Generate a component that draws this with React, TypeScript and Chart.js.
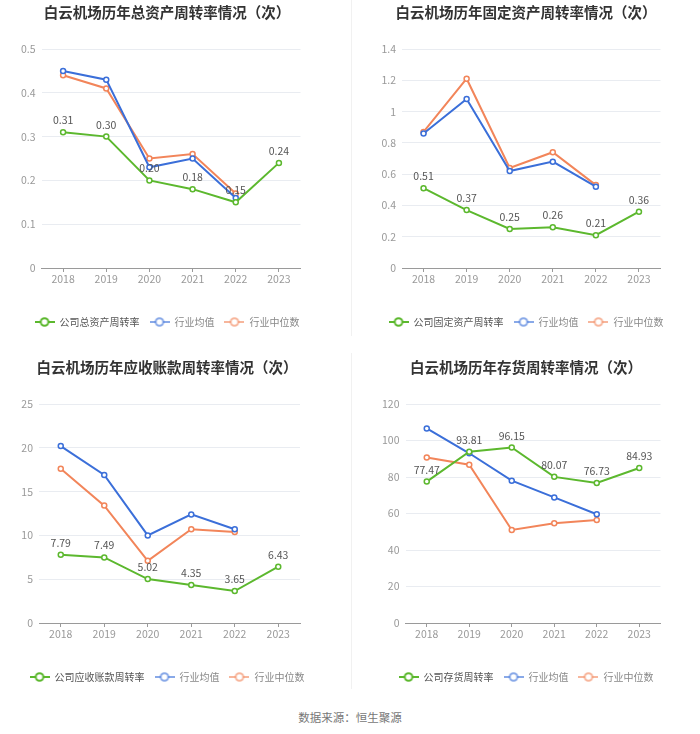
import React, { useEffect, useRef } from "react";
import { Chart, registerables } from "chart.js";

Chart.register(...registerables);

const FONT = "'Noto Sans CJK SC', 'Noto Sans', sans-serif";
Chart.defaults.font.family = FONT;

const years = ["2018", "2019", "2020", "2021", "2022", "2023"];
const seriesNames = ["行业均值", "行业中位数"];

const totalAssetCompany = [0.31, 0.3, 0.2, 0.18, 0.15, 0.24];
const totalAssetAvg = [0.45, 0.43, 0.23, 0.25, 0.16, null];
const totalAssetMedian = [0.44, 0.41, 0.25, 0.26, 0.17, null];

const fixedAssetCompany = [0.51, 0.37, 0.25, 0.26, 0.21, 0.36];
const fixedAssetAvg = [0.86, 1.08, 0.62, 0.68, 0.52, null];
const fixedAssetMedian = [0.87, 1.21, 0.64, 0.74, 0.53, null];

const receivableCompany = [7.79, 7.49, 5.02, 4.35, 3.65, 6.43];
const receivableAvg = [20.2, 16.9, 10.0, 12.4, 10.7, null];
const receivableMedian = [17.6, 13.4, 7.1, 10.7, 10.4, null];

const inventoryCompany = [77.47, 93.81, 96.15, 80.07, 76.73, 84.93];
const inventoryAvg = [106.6, 93.0, 78.0, 68.8, 59.6, null];
const inventoryMedian = [90.7, 86.7, 51.0, 54.6, 56.5, null];

const GREEN = "#5cb82e";
const BLUE = "#3b6fd9";
const ORANGE = "#f2855a";

function makeIcon(color: string, alpha: number) {
  const c = document.createElement("canvas");
  c.width = 20;
  c.height = 12;
  const g = c.getContext("2d")!;
  g.lineWidth = 2;
  g.globalAlpha = alpha;
  g.strokeStyle = color;
  g.beginPath();
  g.moveTo(0, 6);
  g.lineTo(20, 6);
  g.stroke();
  g.globalAlpha = 1;
  g.fillStyle = "#fff";
  g.beginPath();
  g.arc(10, 6, 3.8, 0, Math.PI * 2);
  g.fill();
  g.globalAlpha = alpha;
  g.stroke();
  return c;
}

const valueLabelPlugin = {
  id: "valueLabels",
  afterDatasetsDraw(chart: any) {
    const ctx = chart.ctx;
    const meta = chart.getDatasetMeta(0);
    const data = chart.data.datasets[0].data;
    ctx.save();
    ctx.font = `10.5px ${FONT}`;
    ctx.fillStyle = "#555";
    ctx.textAlign = "center";
    ctx.textBaseline = "middle";
    meta.data.forEach((pt: any, i: number) => {
      const v = data[i];
      if (v == null) return;
      ctx.fillText(Number(v).toFixed(2), pt.x, pt.y - 12);
    });
    ctx.restore();
  },
};

type Spec = {
  title: string;
  companyName: string;
  company: (number | null)[];
  avg: (number | null)[];
  median: (number | null)[];
  max: number;
  step: number;
  left: number;
  top: number;
  width: number;
  height: number;
  yW: number;
  rW: number;
};

function LineChart({ spec }: { spec: Spec }) {
  const ref = useRef<HTMLCanvasElement>(null);
  useEffect(() => {
    const icons = [makeIcon(GREEN, 1), makeIcon(BLUE, 0.6), makeIcon(ORANGE, 0.6)];
    const mk = (label: string, data: any[], color: string) => ({
      label,
      data,
      borderColor: color,
      backgroundColor: color,
      borderWidth: 2,
      pointRadius: 2.5,
      pointHoverRadius: 2.5,
      pointBorderWidth: 1.5,
      pointBackgroundColor: "#fff",
      pointBorderColor: color,
      tension: 0,
      spanGaps: false,
    });
    const chart = new Chart(ref.current!, {
      type: "line",
      data: {
        labels: years,
        datasets: [
          mk(spec.companyName, spec.company, GREEN),
          mk(seriesNames[0], spec.avg, BLUE),
          mk(seriesNames[1], spec.median, ORANGE),
        ],
      },
      options: {
        responsive: false,
        animation: false,
        layout: { padding: { left: 0, right: 0, top: 0, bottom: 8 } },
        plugins: {
          tooltip: { enabled: false },
          title: {
            display: true,
            text: spec.title,
            color: "#333",
            font: { size: 14.5, weight: "bold", family: FONT },
            padding: { top: 4, bottom: 27.6 },
          },
          legend: {
            position: "bottom",
            labels: {
              usePointStyle: true,
              pointStyleWidth: 20,
              padding: 10,
              font: { size: 10, family: FONT },
              generateLabels: (c: any) =>
                c.data.datasets.map((ds: any, i: number) => ({
                  text: ds.label,
                  pointStyle: icons[i],
                  fontColor: i === 0 ? "#555" : "#888",
                  datasetIndex: i,
                  hidden: false,
                  lineWidth: 0,
                  strokeStyle: "transparent",
                  fillStyle: "transparent",
                })),
            },
          },
        },
        scales: {
          x: {
            offset: true,
            grid: {
              display: true,
              drawOnChartArea: false,
              drawTicks: true,
              tickLength: 4,
              color: "#9a9a9a",
            },
            border: { display: true, color: "#9a9a9a", width: 1 },
            ticks: {
              color: "#999",
              font: { size: 10.5, family: FONT },
              padding: 1,
              maxRotation: 0,
              autoSkip: false,
            },
            afterFit: (s: any) => {
              s.height = 39;
            },
          },
          y: {
            min: 0,
            max: spec.max,
            ticks: {
              stepSize: spec.step,
              color: "#999",
              font: { size: 10.5, family: FONT },
              padding: 6,
              callback: (v: any) => String(Number(Number(v).toFixed(2))),
            },
            grid: { color: "#e9ecf1", drawTicks: false },
            border: { display: false },
            afterFit: (s: any) => {
              s.width = spec.yW;
            },
          },
          y2: {
            type: "linear",
            position: "right",
            display: true,
            grid: { display: false, drawTicks: false },
            border: { display: false },
            ticks: { display: false },
            afterFit: (s: any) => {
              s.width = spec.rW;
            },
          },
        },
      } as any,
      plugins: [valueLabelPlugin],
    });
    return () => chart.destroy();
  }, [spec]);
  return (
    <div
      style={{
        position: "absolute",
        left: spec.left,
        top: spec.top,
        width: spec.width,
        height: spec.height,
      }}
    >
      <canvas ref={ref} width={spec.width} height={spec.height} style={{ display: "block" }} />
    </div>
  );
}

const specs: Spec[] = [
  {
    title: "白云机场历年总资产周转率情况（次）",
    companyName: "公司总资产周转率",
    company: totalAssetCompany,
    avg: totalAssetAvg,
    median: totalAssetMedian,
    max: 0.5,
    step: 0.1,
    left: 0,
    top: 0,
    width: 334,
    height: 345,
    yW: 41.5,
    rW: 33.5,
  },
  {
    title: "白云机场历年固定资产周转率情况（次）",
    companyName: "公司固定资产周转率",
    company: fixedAssetCompany,
    avg: fixedAssetAvg,
    median: fixedAssetMedian,
    max: 1.4,
    step: 0.2,
    left: 352,
    top: 0,
    width: 348,
    height: 345,
    yW: 50,
    rW: 39.5,
  },
  {
    title: "白云机场历年应收账款周转率情况（次）",
    companyName: "公司应收账款周转率",
    company: receivableCompany,
    avg: receivableAvg,
    median: receivableMedian,
    max: 25,
    step: 5,
    left: 0,
    top: 355,
    width: 334,
    height: 345,
    yW: 39,
    rW: 34,
  },
  {
    title: "白云机场历年存货周转率情况（次）",
    companyName: "公司存货周转率",
    company: inventoryCompany,
    avg: inventoryAvg,
    median: inventoryMedian,
    max: 120,
    step: 20,
    left: 352,
    top: 355,
    width: 348,
    height: 345,
    yW: 53.5,
    rW: 39.5,
  },
];

export default function App() {
  return (
    <div
      style={{
        position: "absolute",
        left: 0,
        top: 0,
        width: 700,
        height: 734,
        background: "#fff",
        overflow: "hidden",
      }}
    >
      <div style={{ position: "absolute", left: 351, top: 0, width: 1, height: 336, background: "#f1f1f1" }} />
      <div style={{ position: "absolute", left: 351, top: 353, width: 1, height: 336, background: "#f1f1f1" }} />
      {specs.map((s, i) => (
        <LineChart key={i} spec={s} />
      ))}
      <div
        style={{
          position: "absolute",
          left: 0,
          width: 700,
          top: 709,
          textAlign: "center",
          fontFamily: FONT,
          fontSize: 11.5,
          lineHeight: "16px",
          color: "#777",
        }}
      >
        数据来源：恒生聚源
      </div>
    </div>
  );
}
